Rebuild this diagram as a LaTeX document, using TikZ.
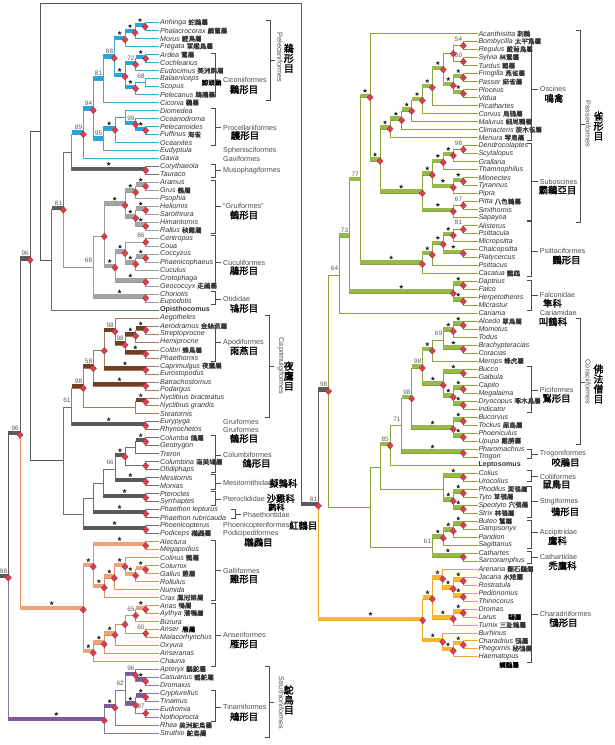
\documentclass[tikz,border=0pt]{standalone}
\usepackage{fontspec}
\setmainfont{Liberation Sans}
\newfontfamily\cjkt{Noto Sans CJK TC}[FakeBold=0.7]
\newfontfamily\cjkb{Noto Sans CJK TC}[FakeBold=1.6]
\usetikzlibrary{calc,shapes.geometric}

\definecolor{lnBlue}{HTML}{35A8DC}
\definecolor{bBlue}{HTML}{27A3DD}
\definecolor{lnGrey}{HTML}{9A9A9A}
\definecolor{bGrey}{HTML}{A4A4A4}
\definecolor{lnBrown}{HTML}{A27A5C}
\definecolor{bBrown}{HTML}{6E4024}
\definecolor{lnDark}{HTML}{6E6E6E}
\definecolor{bDark}{HTML}{5A5A5A}
\definecolor{lnOrange}{HTML}{E48A5C}
\definecolor{bOrange}{HTML}{EBA37C}
\definecolor{lnPurple}{HTML}{8E73A8}
\definecolor{bPurple}{HTML}{7E5C9A}
\definecolor{lnGreen}{HTML}{86A43C}
\definecolor{bGreen}{HTML}{96B94A}
\definecolor{lnYel}{HTML}{F2A52A}
\definecolor{bYel}{HTML}{F7B733}
\definecolor{dmRed}{HTML}{D8404F}

\newcommand\zs{\cjkt\fontsize{6.6}{8}\selectfont}

\tikzset{
  lb/.style={draw=lnBlue, line width=0.9pt},
  lg/.style={draw=lnGrey, line width=0.9pt},
  lbr/.style={draw=lnBrown, line width=0.9pt},
  ld/.style={draw=lnDark, line width=0.9pt},
  lo/.style={draw=lnOrange, line width=0.9pt},
  lp/.style={draw=lnPurple, line width=0.9pt},
  lgr/.style={draw=lnGreen, line width=0.9pt},
  ly/.style={draw=lnYel, line width=0.9pt},
  lk/.style={draw=black!65, line width=0.9pt},
  tip/.style={anchor=west, inner sep=0.8pt, text=black!80,
    font=\fontsize{7.1}{8}\selectfont\itshape},
  tzh/.style={anchor=west, inner sep=0.5pt, font=\zs},
  dia/.style={diamond, fill=dmRed, draw=dmRed!75!black, line width=0.3pt,
    inner sep=0pt, minimum width=6.4pt, minimum height=7pt},
  stx/.style={star, star points=5, star point ratio=2.3, fill=black!85,
    inner sep=0pt, minimum size=4.4pt, yshift=6.6pt},
  bsl/.style={anchor=south east, inner sep=0pt, text=black!65, xshift=-1pt,
    yshift=4.2pt, font=\fontsize{6.4}{6.4}\selectfont},
  ord/.style={anchor=west, inner sep=0.5pt, text=black!70,
    font=\fontsize{7.2}{8}\selectfont},
  zho/.style={inner sep=0pt, font=\cjkb\fontsize{9.4}{10}\selectfont},
  zhv/.style={inner sep=0pt, align=center,
    font=\cjkb\fontsize{10}{10}\selectfont},
  brk/.style={draw=black!70, line width=0.6pt}
}

% marks are collected and drawn last, on top of the branches
\makeatletter
\newcommand\trMarks{}
\newcommand\trLater[1]{\g@addto@macro\trMarks{#1}}
\makeatother

% clade: child styles, name, x, two children
\newcommand\trC[6]{%
  \path let \p1=(#5), \p2=(#6) in coordinate (#3) at (#4pt,{0.5*\y1+0.5*\y2});
  \draw[#1] (#3) |- (#5);
  \draw[#2] (#3) |- (#6);}
\newcommand\trBar[3]{\fill[#1] (#2 |- #3) rectangle ([yshift=3.9pt]#3);}
\newcommand\trD[1]{\trLater{\node[dia] at (#1) {};}}
\newcommand\trStar[2]{\trLater{\node[stx] at ($(#1 |- #2)!.5!(#2)$) {};}}
\newcommand\trL[2]{\trLater{\node[bsl] at (#1) {#2};}}
\newcommand\trSD[3]{\trBar{#1}{#2}{#3}\trStar{#2}{#3}\trD{#3}}
\newcommand\trLD[4]{\trBar{#1}{#2}{#3}\trL{#3}{#4}\trD{#3}}
\newcommand\trLB[4]{\trBar{#1}{#2}{#3}\trL{#3}{#4}}
\newcommand\trLN[2]{\trL{#1}{#2}\trD{#1}}
\newcommand\trBrk[4]{\draw[brk] (#1-4.5,#2) -| (#1,#3) -- (#1-4.5,#3); \draw[brk] (#1,#4) -- (#1+6,#4);}
\newcommand\trBig[3]{\draw[brk] (#1-4.5,#2) -| (#1,#3) -- (#1-4.5,#3);}

\begin{document}
\begin{tikzpicture}[x=1pt,y=-1pt]
\useasboundingbox (0,0) rectangle (614,745);

% ---------- tips, left column
\foreach \id/\la/\zh [count=\i from 0] in {
  anh/Anhinga/蛇鵜屬, pha/Phalacrocorax/鸕鶿屬, mor/Morus/鰹鳥屬, fre/Fregata/軍艦鳥屬,
  ard/Ardea/鷺屬, coc/Cochlearius/{}, eud/Eudocimus/美洲鹮屬, bal/Balaeniceps/{},
  sco/Scopus/{}, pel/Pelecanus/鵜鶘屬, cic/Ciconia/鸛屬, dio/Diomedea/{},
  oce/Oceanodroma/{}, plc/Pelecanoides/{}, puf/Puffinus/海雀, ocs/Oceanites/{},
  eyp/Eudyptula/{}, gav/Gavia/{}, cor/Corythaeola/{}, tau/Tauraco/{},
  ara/Aramus/{}, gru/Grus/鶴屬, pso/Psophia/{}, hel/Heliornis/{},
  sar/Sarothrura/{}, him/Himantornis/{}, ral/Rallus/秧雞屬, cen/Centropus/{},
  cou/Coua/{}, ccy/Coccyzus/{}, phc/Phaenicophaeus/{}, cuc/Cuculus/{},
  cro/Crotophaga/{}, geo/Geococcyx/走鵑屬, cho/Choriotis/{}, eupo/Eupodotis/{},
  opi/{\upshape\bfseries Opisthocomus}/{}, aeg/Aegotheles/{}, aer/Aerodramus/金絲燕屬, stp/Streptoprocne/{},
  hem/Hemiprocne/{}, clb/Colibri/蜂鳥屬, pht/Phaethornis/{}, cpm/Caprimulgus/夜鷹屬,
  eur/Eurostopodus/{}, bat/Batrachostomus/{}, pod/Podargus/{}, nyb/Nyctibius bracteatus/{},
  nyg/Nyctibius grandis/{}, ste/Steatornis/{}, ery/Eurypyga/{}, rhy/Rhynochetos/{},
  clm/Columba/鴿屬, geot/Geotrygon/{}, tre/Treron/{}, clmb/Columbina/南美鳩屬,
  oti/Otidiphaps/{}, mes/Mesitornis/{}, mon/Monias/{}, pte/Pterocles/{},
  syr/Syrrhaptes/{}, phl/Phaethon lepturus/{}, phr/Phaethon rubricauda/{}, phoe/Phoenicopterus/{},
  podi/Podiceps/鸊鷉屬, ale/Alectura/{}, mgp/Megapodius/{}, cln/Colinus/鶉屬,
  ctx/Coturnix/{}, gls/Gallus/雞屬, rol/Rollulus/{}, num/Numida/{},
  crx/Crax/鳳冠雉屬, ana/Anas/鴨屬, ayt/Aythya/潛鴨屬, biz/Biziura/{},
  ans/Anser/{}, mlc/Malacorhynchus/{}, oxy/Oxyura/{}, asr/Anseranas/{},
  chn/Chauna/{}, apt/Apteryx/鷸鴕屬, cas/Casuarius/鶴鴕屬, drm/Dromaius/{},
  cry/Crypturellus/{}, tin/Tinamus/{}, eudr/Eudromia/{}, not/Nothoprocta/{},
  rhe/Rhea/美洲鴕鳥屬, stru/Struthio/鴕鳥屬}
  \node[tip] (\id) at (159.2,22.7+7.984*\i) {\la\ {\zs\zh}};

% ---------- tips, right column
\foreach \id/\la/\zh [count=\i from 0] in {
  aca/Acanthisitta/刺鷯, bom/Bombycilla/太平鳥屬, reg/Regulus/戴菊鳥屬, syl/Sylvia/林鶯屬,
  tur/Turdus/鶇屬, fri/Fringilla/燕雀屬, pas/Passer/麻雀屬, plo/Ploceus/{},
  vid/Vidua/{}, pic/Picathartes/{}, crv/Corvus/烏鴉屬, mal/Malurus/細尾鷯屬,
  cli/Climacteris/旋木雀屬, men/Menura/琴鳥屬, den/Dendrocolaptes/{}, scy/Scytalopus/{},
  gra/Grallaria/{}, tha/Thamnophilus/{}, mio/Mionectes/{}, tyr/Tyrannus/{},
  pip/Pipra/{}, pit/Pitta/八色鶇屬, smi/Smithornis/{}, sap/Sapayoa/{},
  ali/Alisterus/{}, psu/Psittacula/{}, mic/Micropsitta/{}, cha/Chalcopsitta/{},
  pla/Platycercus/{}, psi/Psittacus/{}, cac/Cacatua/鸚鵡, dap/Daptrius/{},
  fal/Falco/{}, her/Herpetotheres/{}, mcr/Micrastur/{}, car/Cariama/{},
  alc/Alcedo/翠鳥屬, mom/Momotus/{}, tod/Todus/{}, bra/Brachypteracias/{},
  crc/Coracias/{}, mer/Merops/蜂虎屬, buc/Bucco/{}, gal/Galbula/{},
  cap/Capito/{}, meg/Megalaima/{}, dry/Dryocopus/啄木鳥屬, ind/Indicator/{},
  bcv/Bucorvus/{}, toc/Tockus/犀鳥屬, phn/Phoeniculus/{}, upu/Upupa/戴勝屬,
  phm/Pharomachrus/{}, tro/Trogon/{}, lep/{\upshape\bfseries Leptosomus}/{}, col/Colius/{},
  uro/Urocolius/{}, pho/Phodilus/栗鴞屬, tyt/Tyto/草鴞屬, spe/Speotyto/穴鴞屬,
  str/Strix/林鴞屬, but/Buteo/鵟屬, gam/Gampsonyx/{}, pan/Pandion/{},
  sag/Sagittarius/{}, cat/Cathartes/{}, sac/Sarcoramphus/{}, are/Arenaria/翻石鷸屬,
  jac/Jacana/水雉屬, ros/Rostratula/{}, ped/Pedionomus/{}, thi/Thinocorus/{},
  dro/Dromas/{}, lar/Larus/{}, tux/Turnix/三趾鶉屬, bur/Burhinus/{},
  chd/Charadrius/鴴屬, phe/Phegornis/秘鴴屬, hae/Haematopus/{}}
  \node[tip] (\id) at (477.5,33.7+7.99*\i) {\la\ {\zs\zh}};

\node[tzh] (balzh) at (201,82.6) {鯨頭鸛};
\node[tzh] (anszh) at (181.5,629.5) {雁屬};
\node[tzh] (larzh) at (507.5,617) {鷗屬};
\node[tzh] (haezh) at (498.5,665) {蠣鷸屬};

% ---------- right column: passerines, parrots, falcons
\trC{lgr}{lgr}{rBR}{463.3}{bom}{reg}
\trC{lgr}{lgr}{rST}{463.3}{syl}{tur}
\trC{lgr}{lgr}{rBS}{453.3}{rBR}{rST}     \trLN{rBR}{54} \trLN{rST}{60}
\trC{lgr}{lgr}{rFP}{463.3}{fri}{pas}
\trC{lgr}{lgr}{rPV}{463.3}{plo}{vid}
\trC{lgr}{lgr}{rFV}{453.3}{rFP}{rPV}     \trSD{bGreen}{rFV}{rFP} \trSD{bGreen}{rFV}{rPV}
\trC{lgr}{lgr}{rO1}{443.3}{rBS}{rFV}     \trD{rBS} \trSD{bGreen}{rO1}{rFV}
\trC{lgr}{lgr}{rO2}{432.3}{rO1}{pic}     \trSD{bGreen}{rO2}{rO1}
\trC{lgr}{lgr}{rO3}{422.3}{rO2}{crv}     \trSD{bGreen}{rO3}{rO2}
\trC{lgr}{lgr}{rO4}{411.7}{rO3}{mal}     \trSD{bGreen}{rO4}{rO3}
\trC{lgr}{lgr}{rO5}{401.7}{rO4}{cli}     \trSD{bGreen}{rO5}{rO4}
\trC{lgr}{lgr}{rOsc}{390}{rO5}{men}      \trSD{bGreen}{rOsc}{rO5}
\trC{lgr}{lgr}{rDS}{463.3}{den}{scy}
\trC{lgr}{lgr}{rDSG}{453.3}{rDS}{gra}    \trLN{rDS}{98}
\trC{lgr}{lgr}{rDST}{443.3}{rDSG}{tha}   \trSD{bGreen}{rDST}{rDSG}
\trC{lgr}{lgr}{rMT}{463.3}{mio}{tyr}
\trC{lgr}{lgr}{rMTP}{453.3}{rMT}{pip}    \trSD{bGreen}{rMTP}{rMT}
\trC{lgr}{lgr}{rTyr}{432.3}{rDST}{rMTP}  \trSD{bGreen}{rTyr}{rDST} \trSD{bGreen}{rTyr}{rMTP}
\trC{lgr}{lgr}{rPS}{463.3}{pit}{smi}
\trC{lgr}{lgr}{rPSS}{453.3}{rPS}{sap}    \trLN{rPS}{67}
\trC{lgr}{lgr}{rSub}{422.3}{rTyr}{rPSS}  \trSD{bGreen}{rSub}{rTyr} \trSD{bGreen}{rSub}{rPSS}
\trC{lgr}{lgr}{rX}{380}{rOsc}{rSub}      \trSD{bGreen}{rX}{rOsc} \trSD{bGreen}{rX}{rSub}
\trC{lgr}{lgr}{rPass}{370}{aca}{rX}      \trSD{bGreen}{rPass}{rX}
\trC{lgr}{lgr}{rAP}{463.3}{ali}{psu}
\trC{lgr}{lgr}{rAPM}{453.3}{rAP}{mic}    \trLN{rAP}{81}
\trC{lgr}{lgr}{rCP}{463.3}{cha}{pla}
\trC{lgr}{lgr}{rPs1}{443.3}{rAPM}{rCP}   \trSD{bGreen}{rPs1}{rAPM} \trSD{bGreen}{rPs1}{rCP}
\trC{lgr}{lgr}{rPs2}{432.3}{rPs1}{psi}   \trSD{bGreen}{rPs2}{rPs1}
\trC{lgr}{lgr}{rPsi}{422.3}{rPs2}{cac}   \trSD{bGreen}{rPsi}{rPs2}
\trC{lgr}{lgr}{r77}{360}{rPass}{rPsi}    \trSD{bGreen}{r77}{rPass} \trSD{bGreen}{r77}{rPsi}
\trC{lgr}{lgr}{rDF}{463.3}{dap}{fal}
\trC{lgr}{lgr}{rHM}{463.3}{her}{mcr}
\trC{lgr}{lgr}{rFal}{453.3}{rDF}{rHM}    \trSD{bGreen}{rFal}{rDF} \trSD{bGreen}{rFal}{rHM}
\trC{lgr}{lgr}{r73}{349.3}{r77}{rFal}    \trLB{bGreen}{r73}{r77}{77} \trSD{bGreen}{r73}{rFal}
\trC{lgr}{lgr}{r64}{339.3}{r73}{car}     \trLB{bGreen}{r64}{r73}{73}

% ---------- right column: coraciiform group, owls, raptors
\trC{lgr}{lgr}{rAM}{463.3}{alc}{mom}
\trC{lgr}{lgr}{rAMT}{453.3}{rAM}{tod}    \trSD{bGreen}{rAMT}{rAM}
\trC{lgr}{lgr}{rBC}{463.3}{bra}{crc}
\trC{lgr}{lgr}{r69}{443.3}{rAMT}{rBC}    \trSD{bGreen}{r69}{rAMT} \trSD{bGreen}{r69}{rBC}
\trC{lgr}{lgr}{rMe}{432.3}{r69}{mer}     \trL{r69}{69}
\trC{lgr}{lgr}{rBG}{463.3}{buc}{gal}
\trC{lgr}{lgr}{rCM}{463.3}{cap}{meg}
\trC{lgr}{lgr}{rDI}{463.3}{dry}{ind}
\trC{lgr}{lgr}{rCD}{453.3}{rCM}{rDI}     \trSD{bGreen}{rCD}{rCM} \trSD{bGreen}{rCD}{rDI}
\trC{lgr}{lgr}{rPic}{443.3}{rBG}{rCD}    \trSD{bGreen}{rPic}{rBG} \trSD{bGreen}{rPic}{rCD}
\trC{lgr}{lgr}{r98a}{422.3}{rMe}{rPic}   \trSD{bGreen}{r98a}{rMe} \trSD{bGreen}{r98a}{rPic}
\trC{lgr}{lgr}{rBT}{463.3}{bcv}{toc}
\trC{lgr}{lgr}{rPU}{463.3}{phn}{upu}
\trC{lgr}{lgr}{rBuc}{453.3}{rBT}{rPU}    \trSD{bGreen}{rBuc}{rBT} \trSD{bGreen}{rBuc}{rPU}
\trC{lgr}{lgr}{r98b}{411.7}{r98a}{rBuc}  \trLD{bGreen}{r98b}{r98a}{98} \trSD{bGreen}{r98b}{rBuc}
\trC{lgr}{lgr}{rTro}{463.3}{phm}{tro}
\trC{lgr}{lgr}{r71}{401.7}{r98b}{rTro}   \trLD{bGreen}{r71}{r98b}{98} \trSD{bGreen}{r71}{rTro}
\trC{lgr}{lgr}{r85}{390}{r71}{lep}       \trL{r71}{71}
\trC{lgr}{lgr}{rCol}{463.3}{col}{uro}
\trC{lgr}{lgr}{rPT}{463.3}{pho}{tyt}
\trC{lgr}{lgr}{rSS}{463.3}{spe}{str}
\trC{lgr}{lgr}{rStr}{453.3}{rPT}{rSS}    \trSD{bGreen}{rStr}{rPT} \trSD{bGreen}{rStr}{rSS}
\trC{lgr}{lgr}{rCS}{443.3}{rCol}{rStr}   \trSD{bGreen}{rCS}{rCol} \trSD{bGreen}{rCS}{rStr}
\trC{lgr}{lgr}{r380}{380}{r85}{rCS}      \trLD{bGreen}{r380}{r85}{85}
\trC{lgr}{lgr}{rBGa}{463.3}{but}{gam}
\trC{lgr}{lgr}{rBGP}{453.3}{rBGa}{pan}   \trSD{bGreen}{rBGP}{rBGa}
\trC{lgr}{lgr}{rAcc}{443.3}{rBGP}{sag}   \trSD{bGreen}{rAcc}{rBGP}
\trC{lgr}{lgr}{rCat}{463.3}{cat}{sac}
\trC{lgr}{lgr}{rAcm}{432.3}{rAcc}{rCat}  \trSD{bGreen}{rAcm}{rAcc} \trSD{bGreen}{rAcm}{rCat}
\trC{lgr}{lgr}{r370}{370}{r380}{rAcm}    \trL{rAcm}{61}
\trC{lgr}{lgr}{rU}{328.5}{r64}{r370}     \trL{r64}{64}

% ---------- right column: shorebirds
\trC{ly}{ly}{rJR}{463.3}{jac}{ros}
\trC{ly}{ly}{rPTh}{463.3}{ped}{thi}
\trC{ly}{ly}{rJP}{453.3}{rJR}{rPTh}      \trSD{bYel}{rJP}{rJR} \trSD{bYel}{rJP}{rPTh}
\trC{ly}{ly}{rC1a}{442.7}{are}{rJP}      \trSD{bYel}{rC1a}{rJP}
\trC{ly}{ly}{rDL}{463.3}{dro}{lar}
\trC{ly}{ly}{rC1b}{453.3}{rDL}{tux}      \trSD{bYel}{rC1b}{rDL}
\trC{ly}{ly}{rC1}{432.3}{rC1a}{rC1b}     \trSD{bYel}{rC1}{rC1a} \trSD{bYel}{rC1}{rC1b}
\trC{ly}{ly}{rCP2}{463.3}{chd}{phe}
\trC{ly}{ly}{rC2p}{453.3}{rCP2}{hae}     \trSD{bYel}{rC2p}{rCP2}
\trC{ly}{ly}{rC2}{442.7}{bur}{rC2p}      \trSD{bYel}{rC2}{rC2p}
\trC{ly}{ly}{rCh}{422.7}{rC1}{rC2}       \trSD{bYel}{rCh}{rC1} \trSD{bYel}{rCh}{rC2}
\trC{lk}{ly}{rV}{318.3}{rU}{rCh}         \trLD{bDark}{rV}{rU}{98} \trSD{bYel}{rV}{rCh}

% ---------- left column: waterbirds
\trC{lb}{lb}{nA}{145}{anh}{pha}
\trC{lb}{lb}{nB}{135}{nA}{mor}           \trSD{bBlue}{nB}{nA}
\trC{lb}{lb}{nC}{125}{nB}{fre}           \trSD{bBlue}{nC}{nB}
\trC{lb}{lb}{nD}{145.7}{ard}{coc}
\trC{lb}{lb}{nE}{135.7}{nD}{eud}         \trSD{bBlue}{nE}{nD}
\trC{lb}{lb}{nF}{145.7}{bal}{sco}
\trC{lb}{lb}{nG}{135.7}{nF}{pel}         \trL{nF}{68}
\trC{lb}{lb}{nH}{125}{nE}{nG}            \trLD{bBlue}{nH}{nE}{72} \trSD{bBlue}{nH}{nG}
\trC{lb}{lb}{nI}{114.3}{nC}{nH}          \trSD{bBlue}{nI}{nC} \trSD{bBlue}{nI}{nH}
\trC{lb}{lb}{nJ}{103.3}{nI}{cic}         \trLD{bBlue}{nJ}{nI}{88}
\trC{lb}{lb}{nK}{145.7}{plc}{puf}
\trC{lb}{lb}{nL}{135.7}{oce}{nK}         \trSD{bBlue}{nL}{nK}
\trC{lb}{lb}{nM}{125}{dio}{nL}           \trLD{bBlue}{nM}{nL}{99}
\trC{lb}{lb}{nP}{115}{nM}{ocs}
\trC{lb}{lb}{nR}{103.3}{nP}{eyp}         \trSD{bBlue}{nR}{nP}
\trC{lb}{lb}{nW}{93.3}{nJ}{nR}           \trLB{bBlue}{nW}{nJ}{81} \trLB{bBlue}{nW}{nR}{95}
\trC{lb}{lb}{nX}{83.3}{nW}{gav}          \trLD{bBlue}{nX}{nW}{94}
\trC{ld}{ld}{nMu}{145.7}{cor}{tau}
\trC{lb}{ld}{nS}{71.7}{nX}{nMu}          \trLD{bBlue}{nS}{nX}{89} \trSD{bDark}{nS}{nMu}

% ---------- left column: cranes, cuckoos, bustards
\trC{lg}{lg}{gAG}{145.7}{ara}{gru}
\trC{lg}{lg}{gAGP}{135.7}{gAG}{pso}      \trSD{bGrey}{gAGP}{gAG}
\trC{lg}{lg}{gHS}{145.7}{hel}{sar}
\trC{lg}{lg}{gHR}{145.7}{him}{ral}
\trC{lg}{lg}{gHH}{135.7}{gHS}{gHR}       \trSD{bGrey}{gHH}{gHS} \trSD{bGrey}{gHH}{gHR}
\trC{lg}{lg}{gGru}{125}{gAGP}{gHH}       \trSD{bGrey}{gGru}{gAGP} \trSD{bGrey}{gGru}{gHH}
\trC{lg}{lg}{gCC}{145.7}{cen}{cou}
\trC{lg}{lg}{gCP}{145.7}{ccy}{phc}
\trC{lg}{lg}{gCPC}{135.7}{gCP}{cuc}      \trSD{bGrey}{gCPC}{gCP}
\trC{lg}{lg}{gCCC}{125}{gCC}{gCPC}       \trLN{gCC}{86} \trSD{bGrey}{gCCC}{gCPC}
\trC{lg}{lg}{gCG}{145.7}{cro}{geo}
\trC{lg}{lg}{gCuc}{115}{gCCC}{gCG}       \trSD{bGrey}{gCuc}{gCCC} \trSD{bGrey}{gCuc}{gCG}
\trC{lg}{lg}{gGC}{104.3}{gGru}{gCuc}     \trSD{bGrey}{gGC}{gGru} \trSD{bGrey}{gGC}{gCuc}
\trC{lg}{lg}{gOt}{145.7}{cho}{eupo}
\trC{lg}{lg}{g68}{93.3}{gGC}{gOt}        \trD{gGC} \trSD{bGrey}{g68}{gOt}
\trC{ld}{lg}{n81}{63.3}{nS}{g68}         \trL{g68}{68}
\trC{ld}{ld}{nT}{51.7}{n81}{opi}         \trLD{bDark}{nT}{n81}{81}

% ---------- left column: nightjars and swifts
\trC{lbr}{lbr}{cAS}{145.7}{aer}{stp}
\trC{lbr}{lbr}{cASH}{135.7}{cAS}{hem}    \trSD{bBrown}{cASH}{cAS}
\trC{lbr}{lbr}{cCP}{145.7}{clb}{pht}
\trC{lbr}{lbr}{cApo}{125}{cASH}{cCP}     \trSD{bBrown}{cApo}{cASH} \trSD{bBrown}{cApo}{cCP}
\trC{lbr}{lbr}{cAA}{115}{aeg}{cApo}      \trLD{bBrown}{cAA}{cApo}{98}
\trC{lbr}{lbr}{cCE}{145.7}{cpm}{eur}
\trC{lbr}{lbr}{cAC}{104.3}{cAA}{cCE}     \trLD{bBrown}{cAC}{cAA}{98} \trSD{bBrown}{cAC}{cCE}
\trC{lbr}{lbr}{cBP}{145.7}{bat}{pod}
\trC{lbr}{lbr}{c58}{93.3}{cAC}{cBP}      \trD{cAC} \trSD{bBrown}{c58}{cBP}
\trC{lbr}{lbr}{cNN}{145.7}{nyb}{nyg}
\trC{lbr}{lbr}{cNS}{135.7}{cNN}{ste}     \trSD{bBrown}{cNS}{cNN}
\trC{lbr}{lbr}{cCap}{83.3}{c58}{cNS}     \trLD{bBrown}{cCap}{c58}{58}
\trC{ld}{ld}{cEu}{145.7}{ery}{rhy}
\trC{lbr}{ld}{c61}{71.7}{cCap}{cEu}      \trLD{bBrown}{c61}{cCap}{98} \trSD{bDark}{c61}{cEu}

% ---------- left column: pigeons and allies
\trC{ld}{ld}{dCG}{145.7}{clm}{geot}
\trC{ld}{ld}{dCGT}{135.7}{dCG}{tre}      \trSD{bDark}{dCGT}{dCG}
\trC{ld}{ld}{dCO}{145.7}{clmb}{oti}
\trC{ld}{ld}{dCol}{125}{dCGT}{dCO}       \trD{dCO}
\trC{ld}{ld}{dMM}{145.7}{mes}{mon}
\trC{ld}{ld}{d66}{115}{dCol}{dMM}        \trSD{bDark}{d66}{dCol} \trSD{bDark}{d66}{dMM}
\trC{ld}{ld}{dPS}{145.7}{pte}{syr}
\trC{ld}{ld}{dQ3}{103.3}{d66}{dPS}       \trL{d66}{66} \trSD{bDark}{dQ3}{dPS}
\trC{ld}{ld}{dPh}{145.7}{phl}{phr}
\trC{ld}{ld}{dQ2}{93.3}{dQ3}{dPh}        \trSD{bDark}{dQ2}{dPh}
\trC{ld}{ld}{dPP}{145.7}{phoe}{podi}
\trC{ld}{ld}{dQ1}{83.3}{dQ2}{dPP}        \trSD{bDark}{dQ1}{dPP}
\trC{ld}{ld}{nZ}{63.3}{c61}{dQ1}         \trL{c61}{61}

% ---------- left column: fowl
\trC{lo}{lo}{oAM}{145.7}{ale}{mgp}
\trC{lo}{lo}{oCG}{145.7}{ctx}{gls}
\trC{lo}{lo}{oCGR}{135.7}{oCG}{rol}      \trSD{bOrange}{oCGR}{oCG}
\trC{lo}{lo}{oCo}{125}{cln}{oCGR}        \trSD{bOrange}{oCo}{oCGR}
\trC{lo}{lo}{oNu}{114.3}{oCo}{num}       \trSD{bOrange}{oNu}{oCo}
\trC{lo}{lo}{oCr}{104.3}{oNu}{crx}       \trSD{bOrange}{oCr}{oNu}
\trC{lo}{lo}{oGal}{93.3}{oAM}{oCr}       \trSD{bOrange}{oGal}{oAM} \trSD{bOrange}{oGal}{oCr}
\trC{lo}{lo}{oAA}{145.7}{ana}{ayt}
\trC{lo}{lo}{oAB}{135.7}{oAA}{biz}       \trSD{bOrange}{oAB}{oAA}
\trC{lo}{lo}{oAn}{145.7}{ans}{mlc}
\trC{lo}{lo}{oABA}{125}{oAB}{oAn}        \trLN{oAB}{65} \trLN{oAn}{60}
\trC{lo}{lo}{oOx}{115}{oABA}{oxy}        \trD{oABA}
\trC{lo}{lo}{oAs}{104.3}{oOx}{asr}       \trSD{bOrange}{oAs}{oOx}
\trC{lo}{lo}{oAns}{93.3}{oAs}{chn}       \trSD{bOrange}{oAns}{oAs}
\trC{lo}{lo}{oGA}{83.3}{oGal}{oAns}      \trSD{bOrange}{oGA}{oGal} \trSD{bOrange}{oGA}{oAns}

% ---------- left column: ratites and tinamous
\trC{lp}{lp}{pCD}{145.7}{cas}{drm}
\trC{lp}{lp}{pACD}{135.7}{apt}{pCD}      \trSD{bPurple}{pACD}{pCD}
\trC{lp}{lp}{pCT}{145.7}{cry}{tin}
\trC{lp}{lp}{pEN}{145.7}{eudr}{not}
\trC{lp}{lp}{pTin}{135.7}{pCT}{pEN}      \trSD{bPurple}{pTin}{pCT} \trLN{pEN}{97}
\trC{lp}{lp}{p62}{125}{pACD}{pTin}       \trLD{bPurple}{p62}{pACD}{96} \trSD{bPurple}{p62}{pTin}
\trC{lp}{lp}{pRh}{115}{p62}{rhe}         \trL{p62}{62}
\trC{lp}{lp}{pPal}{104.3}{pRh}{stru}     \trSD{bPurple}{pPal}{pRh}

% ---------- backbone
\path let \p1=(nT) in coordinate (nN2) at (30pt,\y1);
\coordinate (wrapA) at (40.7,131);
\coordinate (wrapB) at (301.7,3.3);
\draw[lk] (nN2) |- (wrapA) |- (nT);
\draw[lk] (nN2) |- (nZ);
\draw[lk] (wrapA) |- (wrapB) |- (rV);
\trLD{bDark}{wrapB}{rV}{81}
\trC{lk}{lo}{nN1}{20}{nN2}{oGA}          \trLD{bDark}{nN1}{nN2}{96} \trSD{bOrange}{nN1}{oGA}
\trC{lk}{lp}{nRoot}{8.3}{nN1}{pPal}      \trLD{bDark}{nRoot}{nN1}{96} \trSD{bPurple}{nRoot}{pPal}
\coordinate (rootL) at (0,0);
\draw[lk] (nRoot) -- (rootL |- nRoot);
\trLD{bDark}{rootL}{nRoot}{98}

% ---------- brackets and group names, left
\trBrk{215}{53.5}{96.5}{80}
\trBrk{215}{108.5}{145.5}{127.7}
\trBrk{215}{164}{177}{170.5}
\trBrk{215}{180}{233}{206}
\trBrk{215}{235.5}{287}{262.7}
\trBrk{215}{291.5}{304}{299.3}
\trBrk{215}{325}{361}{342.7}
\trBrk{215}{435.7}{472.3}{455}
\trBrk{215}{474.5}{489.5}{483.3}
\trBrk{215}{491.5}{505}{499}
\trBrk{235}{509.5}{518}{514}
\trBrk{215}{540.7}{600}{570.7}
\trBrk{215}{603.3}{666.7}{635}
\trBrk{215}{690.7}{721.7}{707.3}
\trBig{270}{20}{100}
\trBig{269}{315.7}{417.7}
\trBig{269}{666.7}{737.3}
\draw[brk] (270,60) -- (275,60) (269,366) -- (274,366) (269,702) -- (274,702);

\node[ord] (tCic) at (222.5,80) {Ciconiiformes};
\node[zho] (zCic) at (244,89.5) {鸛形目};
\node[ord] (tPro) at (222.5,127.7) {Procellariiformes};
\node[zho] (zPro) at (245,135.5) {鸌形目};
\node[ord] (tSph) at (222.5,151) {Sphenisciformes};
\node[ord] (tGav) at (222.5,158.5) {Gaviformes};
\node[ord] (tMus) at (222.5,170.5) {Musophagiformes};
\node[ord] (tGru) at (222.5,206) {“Gruiformes”};
\node[zho] (zGru) at (244,215) {鶴形目};
\node[ord] (tCuc) at (222.5,262.7) {Cuculiformes};
\node[zho] (zCuc) at (244,270.7) {鵑形目};
\node[ord] (tOti) at (222.5,299.3) {Otididae};
\node[zho] (zOti) at (244,308.3) {鴇形目};
\node[ord] (tApo) at (222.5,342.7) {Apodiformes};
\node[zho] (zApo) at (244,350.7) {雨燕目};
\node[ord] (tEur) at (222.5,422.3) {Gruiformes};
\node[ord] (tRhy) at (222.5,430) {Gruiformes};
\node[zho] (zEur) at (244,438.5) {鶴形目};
\node[ord] (tCol) at (222.5,455) {Columbiformes};
\node[zho] (zCol) at (256.5,463.3) {鴿形目};
\node[ord] (tMes) at (222.5,483.3) {Mesitornithidae};
\node[zho, anchor=west] (zMes) at (269,483.3) {擬鶉科};
\node[ord] (tPte) at (222.5,498.5) {Pteroclididae};
\node[zho, anchor=west] (zPte) at (266.5,498.5) {沙雞科};
\node[ord] (tPha) at (242.5,515) {Phaethontidae};
\node[zho, font=\cjkb\fontsize{8.2}{8.2}\selectfont] (zPha) at (276.5,507.3) {鹲科};
\node[ord] (tPho) at (222.5,525.5) {Phoenicopteriformes};
\node[zho, anchor=west] (zPho) at (289,525.5) {紅鶴目};
\node[ord] (tPod) at (222.5,534) {Podicipediformes};
\node[zho] (zPod) at (258.5,542.3) {鸊鷉目};
\node[ord] (tGal) at (222.5,570.7) {Galliformes};
\node[zho] (zGal) at (244,579) {雞形目};
\node[ord] (tAns) at (222.5,635) {Anseriformes};
\node[zho] (zAns) at (244,644) {雁形目};
\node[ord] (tTin) at (222.5,707.3) {Tinamiformes};
\node[zho] (zTin) at (244,716.7) {鴂形目};
\node[ord, anchor=center, rotate=-90] (tPel) at (280,57.5) {Pelecaniformes};
\node[zhv] (zPel) at (288.8,58.3) {鵜\\形\\目};
\node[ord, anchor=center, rotate=-90] (tCap) at (281,366) {Caprimulgiformes};
\node[zhv] (zCap) at (288.8,376) {夜\\鷹\\目};
\node[ord, anchor=center, rotate=-90] (tStr) at (281.5,703) {Struthioniformes};
\node[zhv] (zStr) at (288.8,700) {鴕\\鳥\\目};

% ---------- brackets and group names, right
\trBrk{531.7}{39.3}{140}{89.3}
\trBrk{531.7}{143.3}{220}{181.7}
\trBrk{531.7}{221.7}{276.7}{251}
\trBrk{531.7}{280}{310}{295}
\trBrk{531.7}{366}{412}{390}
\trBrk{531.7}{449}{458.3}{454}
\trBrk{531.7}{470}{481.7}{476.7}
\trBrk{531.7}{486.7}{517.3}{501.7}
\trBrk{531.7}{520}{548.3}{532.7}
\trBrk{531.7}{551}{563.3}{557.3}
\trBrk{531.7}{568.3}{662.7}{614}
\trBig{580}{30}{222.3}
\trBig{580}{318.3}{444.3}
\draw[brk] (580,124) -- (584.5,124) (580,382) -- (584.5,382);

\node[ord] (tOsc) at (539.2,89.3) {Oscines};
\node[zho] (zOsc) at (554,98.3) {鳴禽};
\node[ord] (tSub) at (539.2,181.7) {Suboscines};
\node[zho] (zSub) at (557.5,190) {霸鶲亞目};
\node[ord] (tPsi) at (539.2,251) {Psittaciformes};
\node[zho] (zPsi) at (566.5,260) {鸚形目};
\node[ord] (tFal) at (539.2,295) {Falconidae};
\node[zho] (zFal) at (552.5,303.3) {隼科};
\node[ord] (tCar) at (539.2,313.3) {Cariamidae};
\node[zho] (zCar) at (553,321.7) {叫鶴科};
\node[ord] (tPic) at (539.2,390) {Piciformes};
\node[zho] (zPic) at (556.5,398.3) {鴷形目};
\node[ord] (tTro) at (539.2,454) {Trogoniformes};
\node[zho] (zTro) at (565.5,462.3) {咬鵑目};
\node[ord] (tCli) at (539.2,476.7) {Coliiformes};
\node[zho] (zCli) at (556.5,484.3) {鼠鳥目};
\node[ord] (tStg) at (539.2,501.7) {Strigiformes};
\node[zho] (zStg) at (565,511.7) {鴞形目};
\node[ord] (tAcc) at (539.2,532.7) {Accipitridae};
\node[zho] (zAcc) at (557.5,540.7) {鷹科};
\node[ord] (tCat) at (539.2,557.3) {Cathartidae};
\node[zho] (zCat) at (562.5,565.7) {禿鷹科};
\node[ord] (tCha) at (539.2,614) {Charadriiformes};
\node[zho] (zCha) at (563.5,622.7) {鴴形目};
\node[ord, anchor=center, rotate=-90] (tPas) at (588.3,124) {Passeriformes};
\node[zhv] (zPas) at (598.5,126) {雀\\形\\目};
\node[ord, anchor=center, rotate=-90] (tCor) at (588.3,382) {Coraciiformes};
\node[zhv] (zCor) at (598.5,384) {佛\\法\\僧\\目};

% ---------- diamonds, stars and support values on top
\trMarks
\end{tikzpicture}
\end{document}
